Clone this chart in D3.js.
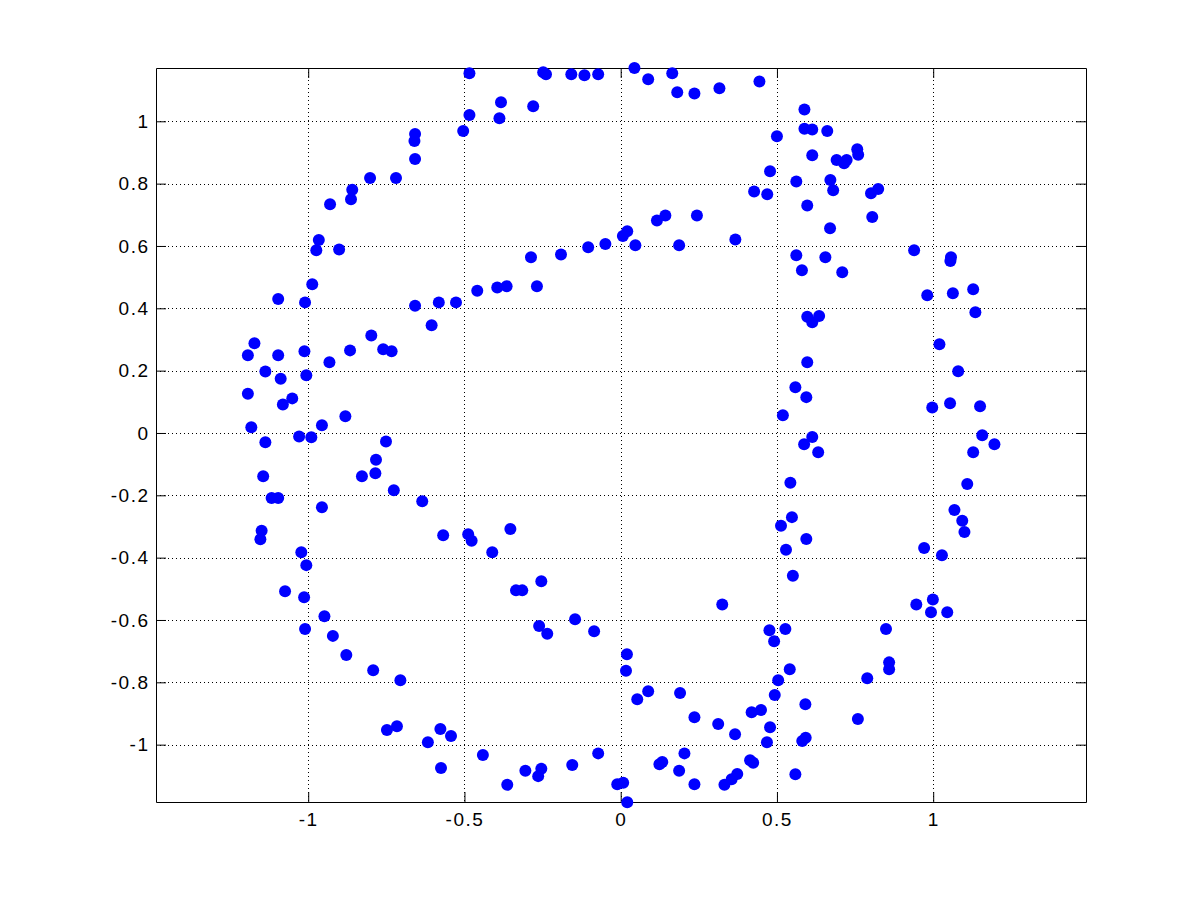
<!DOCTYPE html>
<html>
<head>
<meta charset="utf-8">
<script src="https://cdn.jsdelivr.net/npm/d3@7"></script>
<style>
  body { margin: 0; background: #fff; }
  #scatter text { font-family: "Liberation Sans", Arial, sans-serif; font-size: 19px; letter-spacing: 1.5px; fill: #000; }
</style>
</head>
<body>
<div id="scatter"></div>
<script>
// point coordinates
const xs = [
  -0.484, -0.484, -0.504, -0.658, -0.660, -0.658, -0.802, -0.719, -0.859, -0.863,
  -0.930, -0.966, -0.974, -0.901, -0.987, -1.096, -1.010, -0.658, -0.582, -0.527,
  -0.383, -0.388, -0.280, -0.248, -0.239, -0.158, -0.116, -0.072, 0.044, 0.088,
  0.165, 0.181, 0.236, 0.316, 0.444, 0.500, 0.478, 0.427, 0.469, 0.116,
  0.143, 0.244, 0.007, 0.021, 0.047, 0.187, 0.367, -0.287, -0.191, -0.104,
  -0.049, -0.459, -0.395, -0.365, -0.268, 0.588, 0.588, 0.613, 0.661, 0.613,
  0.757, 0.760, 0.691, 0.723, 0.715, 0.562, 0.671, 0.680, 0.801, 0.824,
  0.597, 0.805, 0.670, 0.939, 1.057, 1.055, 0.562, 0.655, 0.580, 0.709,
  0.981, 1.063, 1.128, 1.135, -0.605, -0.798, -0.760, -0.733, -0.866, -0.932,
  -1.012, -1.172, -1.193, -1.096, -1.137, -1.088, -1.006, -1.193, -1.051, -1.081,
  -0.881, -0.956, -1.182, -1.029, -0.990, -1.137, -0.751, -0.783, -0.785, -0.828,
  -1.144, -0.726, -1.117, -1.096, -0.956, -0.635, -1.149, -1.153, -0.568, -0.488,
  -0.477, -1.022, -1.006, -0.353, -0.411, 0.519, 0.597, 0.635, 0.613, 1.020,
  0.597, 1.080, 0.559, 0.594, 0.997, 1.054, 1.150, 0.613, 0.587, 0.632,
  1.157, 1.196, 1.128, 0.543, 1.109, 0.548, 0.513, 0.594, 0.529, 1.068,
  1.093, 1.100, 0.971, 1.028, -1.074, -1.013, -0.948, -1.010, -0.921, -0.878,
  -0.792, -0.705, -0.748, -0.716, -0.617, -0.577, -0.543, -0.575, -0.254, -0.335,
  -0.315, 0.325, -0.261, -0.235, -0.146, -0.085, 0.476, 0.491, 0.020, 0.017,
  0.504, 0.493, 0.088, 0.053, 0.190, 0.236, 0.312, 0.366, 0.419, 0.449,
  0.478, 0.468, -0.441, -0.363, -0.305, -0.254, -0.264, -0.155, -0.072, -0.011,
  0.008, 0.021, 0.124, 0.133, 0.204, 0.187, 0.236, 0.332, 0.355, 0.373,
  0.414, 0.424, 0.551, 0.999, 0.946, 0.993, 1.045, 0.527, 0.849, 0.859,
  0.859, 0.541, 0.789, 0.591, 0.759, 0.581, 0.592, 0.559
];
const ys = [
  1.154, 1.020, 0.969, 0.959, 0.937, 0.879, 0.818, 0.818, 0.780, 0.750,
  0.734, 0.619, 0.586, 0.589, 0.477, 0.430, 0.419, 0.408, 0.419, 0.419,
  1.061, 1.010, 1.048, 1.157, 1.151, 1.151, 1.148, 1.151, 1.171, 1.135,
  1.154, 1.093, 1.089, 1.106, 1.128, 0.952, 0.840, 0.775, 0.766, 0.682,
  0.698, 0.698, 0.632, 0.647, 0.602, 0.602, 0.621, 0.564, 0.573, 0.596,
  0.606, 0.456, 0.467, 0.471, 0.471, 1.038, 0.976, 0.974, 0.969, 0.891,
  0.910, 0.893, 0.876, 0.876, 0.865, 0.807, 0.812, 0.779, 0.769, 0.783,
  0.730, 0.693, 0.657, 0.586, 0.564, 0.552, 0.570, 0.564, 0.522, 0.516,
  0.442, 0.448, 0.461, 0.387, 0.346, 0.313, 0.269, 0.262, 0.265, 0.227,
  0.262, 0.288, 0.249, 0.249, 0.197, 0.174, 0.185, 0.126, 0.111, 0.091,
  0.054, 0.025, 0.018, -0.011, -0.014, -0.030, -0.027, -0.086, -0.129, -0.139,
  -0.139, -0.184, -0.209, -0.209, -0.238, -0.219, -0.314, -0.341, -0.328, -0.325,
  -0.346, -0.383, -0.424, -0.308, -0.383, 0.057, 0.373, 0.375, 0.355, 0.285,
  0.227, 0.198, 0.147, 0.115, 0.082, 0.095, 0.086, -0.013, -0.036, -0.062,
  -0.007, -0.036, -0.062, -0.160, -0.164, -0.270, -0.298, -0.340, -0.375, -0.247,
  -0.282, -0.318, -0.369, -0.392, -0.508, -0.527, -0.588, -0.629, -0.651, -0.712,
  -0.761, -0.793, -0.953, -0.941, -0.992, -0.950, -0.972, -1.075, -0.476, -0.505,
  -0.505, -0.550, -0.619, -0.644, -0.598, -0.636, -0.633, -0.668, -0.710, -0.763,
  -0.793, -0.841, -0.829, -0.854, -0.834, -0.912, -0.934, -0.967, -0.896, -0.889,
  -0.944, -0.992, -1.033, -1.129, -1.084, -1.077, -1.101, -1.065, -1.028, -1.127,
  -1.122, -1.185, -1.063, -1.056, -1.028, -1.084, -1.127, -1.129, -1.111, -1.094,
  -1.050, -1.058, -0.458, -0.534, -0.550, -0.575, -0.575, -0.629, -0.629, -0.736,
  -0.758, -0.758, -0.787, -0.870, -0.918, -0.988, -0.978, -1.095
];

const xTicks = [-1, -0.5, 0, 0.5, 1];
const xTickLabels = ["-1", "-0.5", "0", "0.5", "1"];
const yTicks = [-1, -0.8, -0.6, -0.4, -0.2, 0, 0.2, 0.4, 0.6, 0.8, 1];
const yTickLabels = ["-1", "-0.8", "-0.6", "-0.4", "-0.2", "0", "0.2", "0.4", "0.6", "0.8", "1"];

const xLimits = [-1.487, 1.489];
const yLimits = [-1.184, 1.171];

let el = document.querySelector("#scatter");
render(el);

function render(element) {
    const win_width = 1201;
    const win_height = 901;
    let margin = { top: 68, right: 115, bottom: 99, left: 156 };
    let width = win_width - margin.left - margin.right;
    let height = win_height - margin.top - margin.bottom;

    let svg = d3.select(element)
        .append("svg")
        .attr("width", win_width)
        .attr("height", win_height)
        .append("g")
        .attr("transform", "translate(" + margin.left + "," + margin.top + ")");

    let x = d3.scaleLinear().domain(xLimits).range([0, width]);
    let y = d3.scaleLinear().domain(yLimits).range([height, 0]);

    // dotted grid
    let grid = svg.append("g")
        .attr("stroke", "#000")
        .attr("stroke-width", 1)
        .attr("stroke-dasharray", "1,3");
    grid.selectAll("line.vx")
        .data(xTicks)
        .enter()
        .append("line")
        .attr("x1", d => Math.round(x(d)) + 0.5)
        .attr("x2", d => Math.round(x(d)) + 0.5)
        .attr("y1", 0)
        .attr("y2", height);
    grid.selectAll("line.hy")
        .data(yTicks)
        .enter()
        .append("line")
        .attr("x1", 0)
        .attr("x2", width)
        .attr("y1", d => Math.round(y(d)) + 0.5)
        .attr("y2", d => Math.round(y(d)) + 0.5);

    // axes, ticks pointing inwards
    let xFmt = (d, i) => xTickLabels[i];
    let yFmt = (d, i) => yTickLabels[i];

    svg.append("g")
        .attr("transform", "translate(0," + height + ")")
        .call(d3.axisBottom(x).tickValues(xTicks).tickFormat(xFmt)
            .tickSizeInner(-10).tickSizeOuter(0).tickPadding(11));
    svg.append("g")
        .call(d3.axisTop(x).tickValues(xTicks).tickFormat("")
            .tickSizeInner(-10).tickSizeOuter(0));
    svg.append("g")
        .call(d3.axisLeft(y).tickValues(yTicks).tickFormat(yFmt)
            .tickSizeInner(-10).tickSizeOuter(0).tickPadding(6.5));
    svg.append("g")
        .attr("transform", "translate(" + width + ",0)")
        .call(d3.axisRight(y).tickValues(yTicks).tickFormat("")
            .tickSizeInner(-10).tickSizeOuter(0));

    svg.selectAll(".domain").attr("stroke", "#000");
    svg.selectAll(".tick line").attr("stroke", "#000");
    svg.selectAll(".tick text")
        .attr("font-family", null)
        .attr("font-size", null);

    // markers
    svg.append("g")
        .selectAll("circle")
        .data(xs.map((v, i) => [v, ys[i]]))
        .enter()
        .append("circle")
        .attr("cx", d => x(d[0]))
        .attr("cy", d => y(d[1]))
        .attr("r", 6)
        .attr("fill", "#0000ff");
}
</script>
</body>
</html>
